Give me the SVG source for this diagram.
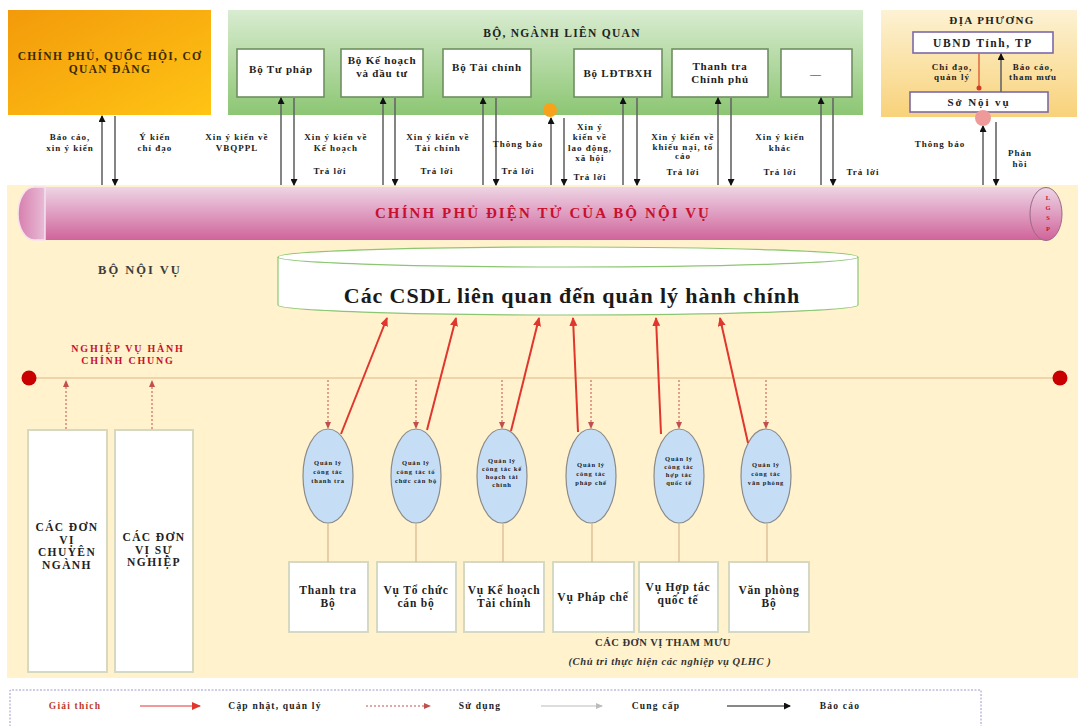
<svg xmlns="http://www.w3.org/2000/svg" width="1083" height="726" viewBox="0 0 1083 726">
<defs>
  <linearGradient id="gOrange" x1="0" y1="0" x2="1" y2="1">
    <stop offset="0" stop-color="#f39a0b"/><stop offset="1" stop-color="#ffc414"/>
  </linearGradient>
  <linearGradient id="gGreen" x1="0" y1="0" x2="0" y2="1">
    <stop offset="0" stop-color="#d9ecd1"/><stop offset="1" stop-color="#8cc673"/>
  </linearGradient>
  <linearGradient id="gLocal" x1="0" y1="0" x2="0" y2="1">
    <stop offset="0" stop-color="#fdf2d4"/><stop offset="1" stop-color="#f8d27a"/>
  </linearGradient>
  <linearGradient id="gBand" x1="0" y1="0" x2="0" y2="1">
    <stop offset="0" stop-color="#edd5e5"/><stop offset="0.5" stop-color="#df9dc1"/><stop offset="1" stop-color="#d0649a"/>
  </linearGradient>
  <linearGradient id="gCap" x1="0" y1="0" x2="1" y2="0">
    <stop offset="0" stop-color="#d77fae"/><stop offset="1" stop-color="#e8bcd6"/>
  </linearGradient>
  <marker id="mBlack" markerWidth="7" markerHeight="7" refX="6" refY="3.5" orient="auto" markerUnits="userSpaceOnUse">
    <path d="M0,0 L7,3.5 L0,7 Z" fill="#111"/>
  </marker>
  <marker id="mRed" markerWidth="9" markerHeight="8" refX="8" refY="4" orient="auto" markerUnits="userSpaceOnUse">
    <path d="M0,0 L9,4 L0,8 Z" fill="#e0362e"/>
  </marker>
  <marker id="mDash" markerWidth="7" markerHeight="6" refX="6" refY="3" orient="auto" markerUnits="userSpaceOnUse">
    <path d="M0,0 L7,3 L0,6 Z" fill="#c0504d"/>
  </marker>
  <marker id="mGray" markerWidth="7" markerHeight="6" refX="6" refY="3" orient="auto" markerUnits="userSpaceOnUse">
    <path d="M0,0 L7,3 L0,6 Z" fill="#bbbbbb"/>
  </marker>
  <style>
    text { font-family: "Liberation Serif", "Times New Roman", serif; font-weight: bold; text-anchor: middle; fill: #222; }
    .box { fill: #ffffff; stroke: #6f8f62; stroke-width: 1.6; }
    .lbox { fill: #ffffff; stroke: #7b6aa8; stroke-width: 1.6; }
    .unit { fill: #ffffff; stroke: #d5d9c2; stroke-width: 2; }
    .cap { font-size: 11.5px; letter-spacing: 1.3px; }
    .b { font-size: 11px; letter-spacing: 0.8px; }
    .u { font-size: 11.5px; letter-spacing: 0.8px; }
    .lv { font-size: 11.5px; letter-spacing: 1.4px; }
    .s { font-size: 9px; letter-spacing: 1px; }
    .lg { font-size: 9.5px; letter-spacing: 1.2px; }
    .o { font-size: 6.5px; letter-spacing: 0.8px; }
    .red { fill: #c8102e; }
    .up { stroke: #666; stroke-width: 1.6; fill: none; marker-end: url(#mBlack); }
    .upd-r { stroke: #e0362e; stroke-width: 2; fill: none; marker-end: url(#mRed); }
    .use { stroke: #c0504d; stroke-width: 1; stroke-dasharray: 2 2; fill: none; marker-end: url(#mDash); }
    .link { stroke: #d8b58c; stroke-width: 1.2; fill: none; }
    .oval { fill: #c6ddf6; stroke: #8a8a8a; stroke-width: 1.2; }
  </style>
</defs>

<!-- page -->
<rect x="0" y="0" width="1083" height="726" fill="#ffffff"/>
<rect x="7" y="185" width="1071" height="493" fill="#fff2cc"/>

<!-- Government block -->
<g id="chinh-phu">
  <rect x="8" y="10" width="203" height="105" fill="url(#gOrange)"/>
  <text class="cap" x="110" y="60" style="fill:#3a2a00">CHÍNH PHỦ, QUỐC HỘI, CƠ</text>
  <text class="cap" x="110" y="73" style="fill:#3a2a00">QUAN ĐẢNG</text>
</g>

<!-- Related ministries -->
<g id="bo-nganh">
  <rect x="228" y="10" width="635" height="105" fill="url(#gGreen)"/>
  <text class="cap" x="562" y="37">BỘ, NGÀNH LIÊN QUAN</text>
</g>
<g id="bo-tu-phap">
  <rect class="box" x="237" y="49" width="87" height="48"/>
  <text class="b" x="281" y="73">Bộ Tư pháp</text>
</g>
<g id="bo-ke-hoach">
  <rect class="box" x="341" y="49" width="82" height="48"/>
  <text class="b" x="382" y="64">Bộ Kế hoạch</text>
  <text class="b" x="382" y="77">và đầu tư</text>
</g>
<g id="bo-tai-chinh">
  <rect class="box" x="443" y="49" width="88" height="48"/>
  <text class="b" x="487" y="71">Bộ Tài chính</text>
</g>
<g id="bo-ldtbxh">
  <rect class="box" x="574" y="49" width="88" height="48"/>
  <text class="b" x="618" y="77">Bộ LĐTBXH</text>
</g>
<g id="thanh-tra-cp">
  <rect class="box" x="672" y="49" width="96" height="48"/>
  <text class="b" x="720" y="70">Thanh tra</text>
  <text class="b" x="720" y="83">Chính phủ</text>
</g>
<g id="bo-khac">
  <rect class="box" x="781" y="49" width="71" height="48"/>
  <text class="b" x="816" y="78">—</text>
</g>

<!-- Local level -->
<g id="dia-phuong">
  <rect x="881" y="10" width="196" height="107" fill="url(#gLocal)"/>
  <text x="992" y="24" style="font-size:11px;letter-spacing:1.4px">ĐỊA PHƯƠNG</text>
</g>
<g id="ubnd">
  <rect class="lbox" x="913" y="32" width="140" height="21"/>
  <text x="983" y="47" style="font-size:11.5px;letter-spacing:1.6px">UBND Tỉnh, TP</text>
</g>
<g id="so-noi-vu">
  <rect class="lbox" x="910" y="92" width="138" height="20"/>
  <text x="979" y="106" style="font-size:11px;letter-spacing:1.9px">Sở Nội vụ</text>
</g>

<!-- e-Government band -->
<g id="cpdt">
  <rect x="30" y="187" width="1020" height="53" fill="url(#gBand)"/>
  <path d="M45,187 L34,187 A16,26.5 0 0 0 34,240 L45,240 Z" fill="url(#gCap)" stroke="#f4e4ee" stroke-width="1.5"/>
  <ellipse cx="1046" cy="214" rx="16" ry="26.5" fill="url(#gBand)" stroke="#9a6a86" stroke-width="1"/>
  <text x="1048" y="200" style="font-size:6.5px" class="red">L</text>
  <text x="1048" y="210" style="font-size:6.5px" class="red">G</text>
  <text x="1048" y="220" style="font-size:6.5px" class="red">S</text>
  <text x="1048" y="231" style="font-size:6.5px" class="red">P</text>
  <text x="543" y="218" class="red" style="font-size:15px;letter-spacing:2.1px">CHÍNH PHỦ ĐIỆN TỬ CỦA BỘ NỘI VỤ</text>
</g>

<text x="140" y="274" style="font-size:12.5px;letter-spacing:2px;fill:#3c3c3c">BỘ NỘI VỤ</text>

<!-- Database -->
<g id="csdl">
  <path d="M278,257 L278,305 A290,10 0 0 0 858,305 L858,257" fill="#ffffff" stroke="#8cc673" stroke-width="1.2"/>
  <ellipse cx="568" cy="257" rx="290" ry="10" fill="#ffffff" stroke="#8cc673" stroke-width="1.2"/>
  <text x="572" y="303" style="font-size:22px;letter-spacing:0.9px;fill:#1a1a1a">Các CSDL liên quan đến quản lý hành chính</text>
</g>

<!-- Common administrative business line -->
<g id="nghiep-vu">
  <line x1="29" y1="378" x2="1060" y2="378" stroke="#e0b585" stroke-width="1.2"/>
  <circle cx="29" cy="378" r="7.5" fill="#c80000"/>
  <circle cx="1060" cy="378" r="7.5" fill="#c80000"/>
  <text x="128" y="352" class="red" style="font-size:10px;letter-spacing:1.8px">NGHIỆP VỤ HÀNH</text>
  <text x="128" y="364" class="red" style="font-size:10px;letter-spacing:1.8px">CHÍNH CHUNG</text>
</g>

<!-- Specialised and service units -->
<g id="don-vi-chuyen-nganh">
  <rect class="unit" x="28" y="430" width="79" height="242"/>
  <text class="lv" x="67" y="531">CÁC ĐƠN</text>
  <text class="lv" x="67" y="543.5">VỊ</text>
  <text class="lv" x="67" y="556">CHUYÊN</text>
  <text class="lv" x="67" y="568.5">NGÀNH</text>
</g>
<g id="don-vi-su-nghiep">
  <rect class="unit" x="115" y="430" width="78" height="242"/>
  <text class="lv" x="154" y="541">CÁC ĐƠN</text>
  <text class="lv" x="154" y="553.5">VỊ SỰ</text>
  <text class="lv" x="154" y="566">NGHIỆP</text>
</g>

<!-- Management functions -->
<g id="ql-thanh-tra">
  <ellipse class="oval" cx="328" cy="476" rx="25" ry="47"/>
  <text class="o" x="328" y="465">Quản lý</text><text class="o" x="328" y="474">công tác</text><text class="o" x="328" y="483">thanh tra</text>
</g>
<g id="ql-to-chuc">
  <ellipse class="oval" cx="416" cy="476" rx="25" ry="47"/>
  <text class="o" x="416" y="465">Quản lý</text><text class="o" x="416" y="474">công tác tổ</text><text class="o" x="416" y="483">chức cán bộ</text>
</g>
<g id="ql-ke-hoach">
  <ellipse class="oval" cx="502" cy="476" rx="25" ry="47"/>
  <text class="o" x="502" y="463">Quản lý</text><text class="o" x="502" y="471">công tác kế</text><text class="o" x="502" y="479">hoạch tài</text><text class="o" x="502" y="487">chính</text>
</g>
<g id="ql-phap-che">
  <ellipse class="oval" cx="591" cy="476" rx="25" ry="47"/>
  <text class="o" x="591" y="467">Quản lý</text><text class="o" x="591" y="476">công tác</text><text class="o" x="591" y="485">pháp chế</text>
</g>
<g id="ql-hop-tac">
  <ellipse class="oval" cx="679" cy="476" rx="25" ry="47"/>
  <text class="o" x="679" y="461">Quản lý</text><text class="o" x="679" y="469">công tác</text><text class="o" x="679" y="477">hợp tác</text><text class="o" x="679" y="485">quốc tế</text>
</g>
<g id="ql-van-phong">
  <ellipse class="oval" cx="766" cy="476" rx="25" ry="47"/>
  <text class="o" x="766" y="467">Quản lý</text><text class="o" x="766" y="476">công tác</text><text class="o" x="766" y="485">văn phòng</text>
</g>

<!-- Advisory units -->
<g id="thanh-tra-bo">
  <rect class="unit" x="289" y="562" width="79" height="70"/>
  <text class="u" x="328" y="594">Thanh tra</text><text class="u" x="328" y="607">Bộ</text>
</g>
<g id="vu-to-chuc">
  <rect class="unit" x="377" y="562" width="79" height="70"/>
  <text class="u" x="416" y="594">Vụ Tổ chức</text><text class="u" x="416" y="607">cán bộ</text>
</g>
<g id="vu-ke-hoach">
  <rect class="unit" x="464" y="562" width="80" height="70"/>
  <text class="u" x="504" y="594">Vụ Kế hoạch</text><text class="u" x="504" y="607">Tài chính</text>
</g>
<g id="vu-phap-che">
  <rect class="unit" x="553" y="562" width="81" height="70"/>
  <text class="u" x="593" y="601">Vụ Pháp chế</text>
</g>
<g id="vu-hop-tac">
  <rect class="unit" x="639" y="562" width="79" height="70"/>
  <text class="u" x="678" y="591">Vụ Hợp tác</text><text class="u" x="678" y="604">quốc tế</text>
</g>
<g id="van-phong-bo">
  <rect class="unit" x="729" y="562" width="80" height="70"/>
  <text class="u" x="769" y="594">Văn phòng</text><text class="u" x="769" y="607">Bộ</text>
</g>
<text x="663" y="646" style="font-size:10.5px;letter-spacing:0.5px;fill:#333">CÁC ĐƠN VỊ THAM MƯU</text>
<text x="670" y="665" style="font-size:10.5px;letter-spacing:0.6px;font-style:italic;fill:#333">(Chủ trì thực hiện các nghiệp vụ QLHC )</text>

<!-- Connectors -->
<g id="connectors">
  <!-- report / reply arrows to the band -->
  <line class="up" x1="102" y1="185" x2="102" y2="116"/>
  <line class="up" x1="115" y1="116" x2="115" y2="185"/>
  <line class="up" x1="281" y1="185" x2="281" y2="98"/>
  <line class="up" x1="294" y1="98" x2="294" y2="185"/>
  <line class="up" x1="383" y1="185" x2="383" y2="98"/>
  <line class="up" x1="395" y1="98" x2="395" y2="185"/>
  <line class="up" x1="483" y1="185" x2="483" y2="98"/>
  <line class="up" x1="496" y1="98" x2="496" y2="185"/>
  <line class="up" x1="551" y1="185" x2="551" y2="118"/>
  <line class="up" x1="564" y1="118" x2="564" y2="185"/>
  <line class="up" x1="623" y1="185" x2="623" y2="98"/>
  <line class="up" x1="637" y1="98" x2="637" y2="185"/>
  <line class="up" x1="718" y1="185" x2="718" y2="98"/>
  <line class="up" x1="731" y1="98" x2="731" y2="185"/>
  <line class="up" x1="821" y1="185" x2="821" y2="98"/>
  <line class="up" x1="833" y1="98" x2="833" y2="185"/>
  <line class="up" x1="983" y1="185" x2="983" y2="126"/>
  <line class="up" x1="996" y1="122" x2="996" y2="185"/>
  <circle cx="550" cy="110" r="7" fill="#f7a21b"/>
  <circle cx="983" cy="118" r="8" fill="#ef9a9a"/>

  <!-- province level -->
  <line x1="979" y1="53" x2="979" y2="88" stroke="#e0643a" stroke-width="1.5"/>
  <circle cx="979" cy="88" r="2.5" fill="#d23a2a"/>
  <line class="up" x1="1001" y1="92" x2="1001" y2="54"/>

  <!-- update / manage -->
  <line class="upd-r" x1="341" y1="434" x2="387" y2="318"/>
  <line class="upd-r" x1="427" y1="430" x2="456" y2="318"/>
  <line class="upd-r" x1="511" y1="431" x2="539" y2="318"/>
  <line class="upd-r" x1="578" y1="432" x2="573" y2="318"/>
  <line class="upd-r" x1="661" y1="434" x2="656" y2="318"/>
  <line class="upd-r" x1="748" y1="443" x2="720" y2="318"/>

  <!-- use -->
  <line class="use" x1="328" y1="380" x2="328" y2="428"/>
  <line class="use" x1="416" y1="380" x2="416" y2="428"/>
  <line class="use" x1="502" y1="380" x2="502" y2="428"/>
  <line class="use" x1="591" y1="380" x2="591" y2="428"/>
  <line class="use" x1="679" y1="380" x2="679" y2="428"/>
  <line class="use" x1="766" y1="380" x2="766" y2="428"/>
  <line class="use" x1="66" y1="429" x2="66" y2="381"/>
  <line class="use" x1="152" y1="429" x2="152" y2="381"/>

  <!-- function to unit -->
  <line class="link" x1="328" y1="523" x2="328" y2="562"/>
  <line class="link" x1="416" y1="523" x2="416" y2="562"/>
  <line class="link" x1="503" y1="523" x2="503" y2="562"/>
  <line class="link" x1="592" y1="523" x2="592" y2="562"/>
  <line class="link" x1="679" y1="523" x2="679" y2="562"/>
  <line class="link" x1="767" y1="523" x2="767" y2="562"/>
</g>

<!-- arrow labels -->
<g id="labels">
  <text class="s" x="70" y="140">Báo cáo,</text><text class="s" x="70" y="151">xin ý kiến</text>
  <text class="s" x="155" y="140">Ý kiến</text><text class="s" x="155" y="151">chỉ đạo</text>
  <text class="s" x="237" y="140">Xin ý kiến về</text><text class="s" x="237" y="151">VBQPPL</text>
  <text class="s" x="336" y="140">Xin ý kiến về</text><text class="s" x="336" y="151">Kế hoạch</text>
  <text class="s" x="330" y="174">Trả lời</text>
  <text class="s" x="438" y="140">Xin ý kiến về</text><text class="s" x="438" y="151">Tài chính</text>
  <text class="s" x="437" y="174">Trả lời</text>
  <text class="s" x="518" y="147">Thông báo</text>
  <text class="s" x="518" y="174">Trả lời</text>
  <text class="s" x="590" y="130">Xin ý</text><text class="s" x="590" y="140">kiến về</text>
  <text class="s" x="590" y="150.5">lao động,</text><text class="s" x="590" y="161">xã hội</text>
  <text class="s" x="590" y="180">Trả lời</text>
  <text class="s" x="683" y="140">Xin ý kiến về</text><text class="s" x="683" y="149.5">khiếu nại, tố</text>
  <text class="s" x="683" y="159">cáo</text>
  <text class="s" x="683" y="175">Trả lời</text>
  <text class="s" x="780" y="140">Xin ý kiến</text><text class="s" x="780" y="151">khác</text>
  <text class="s" x="780" y="175">Trả lời</text>
  <text class="s" x="863" y="175">Trả lời</text>
  <text class="s" x="940" y="147">Thông báo</text>
  <text class="s" x="1020" y="156">Phản</text><text class="s" x="1020" y="167">hồi</text>
  <text class="s" x="952" y="70">Chỉ đạo,</text><text class="s" x="952" y="80">quản lý</text>
  <text class="s" x="1033" y="70">Báo cáo,</text><text class="s" x="1033" y="80">tham mưu</text>
</g>

<!-- legend -->
<g id="legend">
  <path d="M10,730 L10,690 L981,690 L981,730" fill="#ffffff" stroke="#9a9ad0" stroke-width="1" stroke-dasharray="2 1.5"/>
  <text class="lg" x="75" y="709" style="fill:#c0392b">Giải thích</text>
  <line x1="140" y1="706" x2="200" y2="706" stroke="#e0362e" stroke-width="1" marker-end="url(#mRed)"/>
  <text class="lg" x="275" y="709">Cập nhật, quản lý</text>
  <line class="use" x1="366" y1="706" x2="430" y2="706"/>
  <text class="lg" x="480" y="709">Sử dụng</text>
  <line x1="541" y1="706" x2="602" y2="706" stroke="#bbbbbb" stroke-width="1" marker-end="url(#mGray)"/>
  <text class="lg" x="656" y="709">Cung cấp</text>
  <line x1="727" y1="706" x2="790" y2="706" stroke="#111" stroke-width="1" marker-end="url(#mBlack)"/>
  <text class="lg" x="840" y="709">Báo cáo</text>
</g>
</svg>
